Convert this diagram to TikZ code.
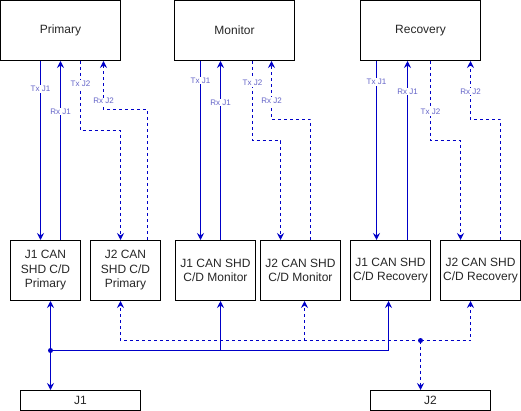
\documentclass[tikz,border=0pt]{standalone}
\usepackage{fontspec}
\setmainfont{Liberation Sans}
\usetikzlibrary{arrows.meta}
\definecolor{sigblue}{RGB}{0,0,200}
\definecolor{lbltext}{RGB}{100,100,200}
\tikzset{
  ecu/.style   ={draw, minimum width=120pt, minimum height=60pt, inner sep=0pt,
                 font=\fontsize{12}{14.5}\selectfont, text=black!85, line width=1pt},
  shd/.style   ={draw, minimum width=80pt, minimum height=60pt, inner sep=0pt,
                 align=center, font=\fontsize{12}{14.5}\selectfont, text=black!85,
                 line width=1pt},
  shdn/.style  ={shd, minimum width=70pt},
  bus/.style   ={draw, minimum width=120pt, minimum height=20pt, inner sep=0pt,
                 font=\fontsize{12}{14.5}\selectfont, text=black!85, line width=1pt},
  sig/.style   ={-{Stealth[length=7pt,width=7pt,inset=2.5pt]}, line width=1pt,
                 color=sigblue},
  sigd/.style  ={sig, dash pattern=on 3pt off 3pt},
  lbl/.style   ={font=\fontsize{8}{9}\selectfont, text=lbltext, fill=white,
                 inner sep=0.8pt},
  jdot/.style  ={fill=sigblue},
}
\begin{document}
\begin{tikzpicture}[x=1pt, y=-1pt]
  \useasboundingbox (-0.5,-0.5) rectangle (520.5,410.5);
  % processors
  \node[ecu] (primary)  at (60,30)  {Primary};
  \node[ecu] (monitor)  at (234,30) {Monitor};
  \node[ecu] (recovery) at (420,30) {Recovery};
  % shutdown circuits
  \node[shdn] (jop) at (45,270)  {J1 CAN\\SHD C/D\\Primary};
  \node[shdn] (jtp) at (125,270) {J2 CAN\\SHD C/D\\Primary};
  \node[shd]  (jom) at (215,270) {J1 CAN SHD\\C/D Monitor};
  \node[shd]  (jtm) at (300,270) {J2 CAN SHD\\C/D Monitor};
  \node[shd]  (jor) at (390,270) {J1 CAN SHD\\C/D Recovery};
  \node[shd]  (jtr) at (480,270) {J2 CAN SHD\\C/D Recovery};
  % buses
  \node[bus] (jone) at (80,400)  {J1};
  \node[bus] (jtwo) at (430,400) {J2};
  % primary links
  \draw[sig] ([xshift=-20pt]primary.south) -- ([xshift=-5pt]jop.north)
    node[lbl, pos=0.156] {Tx J1};
  \draw[sig] ([xshift=15pt]jop.north) -- (primary.south)
    node[lbl, pos=0.717] {Rx J1};
  \draw[sigd] ([xshift=20pt]primary.south) -- ++(0,70)
    node[lbl, pos=0.33] {Tx J2} -| ([xshift=-5pt]jtp.north);
  \draw[sigd] ([xshift=22pt]jtp.north) -- ++(0,-130) -| ([xshift=43pt]primary.south)
    node[lbl, pos=0.59] {Rx J2};
  % monitor links
  \draw[sig] ([xshift=-34pt]monitor.south) -- ([xshift=-15pt]jom.north)
    node[lbl, pos=0.11] {Tx J1};
  \draw[sig] ([xshift=5pt]jom.north) -- ([xshift=-14pt]monitor.south)
    node[lbl, pos=0.767] {Rx J1};
  \draw[sigd] ([xshift=18pt]monitor.south) -- ++(0,80)
    node[lbl, pos=0.275] {Tx J2} -| ([xshift=-20pt]jtm.north);
  \draw[sigd] ([xshift=10pt]jtm.north) -- ++(0,-120) -| ([xshift=37pt]monitor.south)
    node[lbl, pos=0.66] {Rx J2};
  % recovery links
  \draw[sig] ([xshift=-44pt]recovery.south) -- ([xshift=-14pt]jor.north)
    node[lbl, pos=0.117] {Tx J1};
  \draw[sig] ([xshift=17pt]jor.north) -- ([xshift=-13pt]recovery.south)
    node[lbl, pos=0.83] {Rx J1};
  \draw[sigd] ([xshift=10pt]recovery.south) -- ++(0,80)
    node[lbl, pos=0.64] {Tx J2} -| ([xshift=-20pt]jtr.north);
  \draw[sigd] ([xshift=20pt]jtr.north) -- ++(0,-120) -| ([xshift=50pt]recovery.south)
    node[lbl, pos=0.74] {Rx J2};
  % J2 bus (dashed)
  \coordinate (kdot) at (420,340);
  \draw[sigd] (kdot) -| ([xshift=-5pt]jtp.south);
  \draw[sigd] (kdot) -| ([xshift=-10pt]jtr.south);
  \draw[sigd] ([xshift=4pt]jtm.south |- kdot) -- ([xshift=4pt]jtm.south);
  \draw[sigd] (kdot) -- (kdot |- jtwo.north);
  \fill[jdot] (kdot) circle (2.5pt);
  % J1 bus
  \coordinate (jdot) at (50,350);
  \draw[sig] (jdot) -- (jdot |- jop.south);
  \draw[sig] (jdot) -- (jdot |- jone.north);
  \draw[sig] (jdot) -| ([xshift=-2pt]jor.south);
  \draw[sig] ([xshift=5pt]jom.south |- jdot) -- ([xshift=5pt]jom.south);
  \fill[jdot] (jdot) circle (2.5pt);
\end{tikzpicture}
\end{document}
